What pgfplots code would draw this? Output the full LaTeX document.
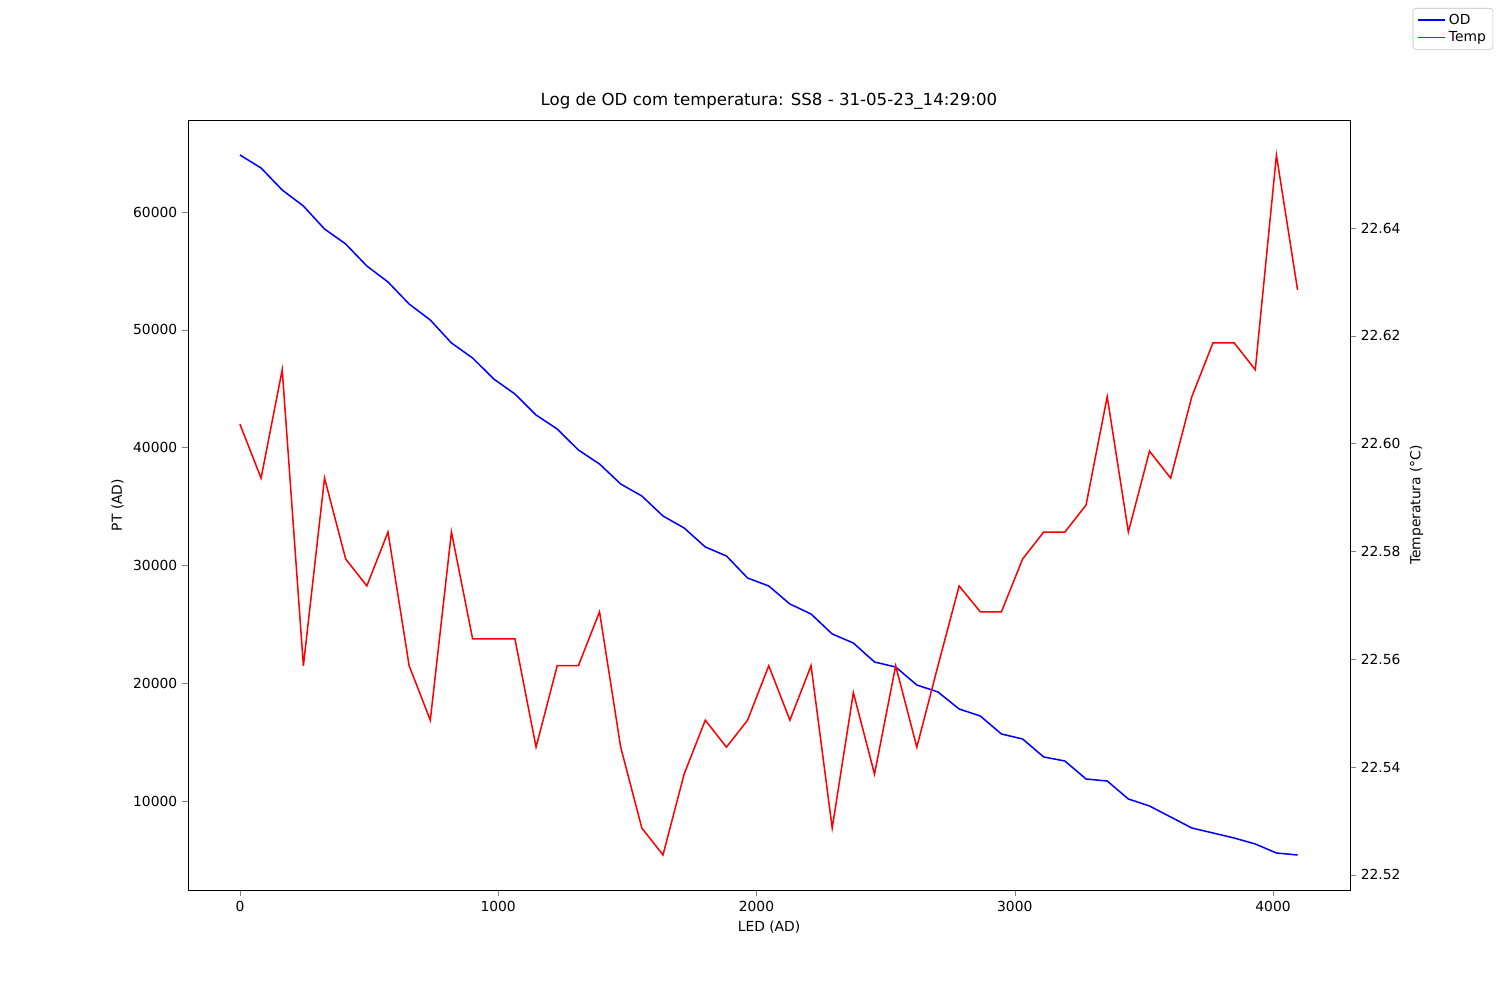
\documentclass[border=0pt]{standalone}
\usepackage{pgfplots}
\pgfplotsset{compat=1.18}
\usepackage{fontspec}
\setmainfont{DejaVu Sans}
\begin{document}
\fontsize{10pt}{12pt}\selectfont
\begin{tikzpicture}
\path[use as bounding box] (0,0) rectangle (15in,10in);
\pgfplotsset{every axis/.style={at={(1.88in,1.1in)},anchor=south west,scale only axis,width=11.62in,height=7.7in,
 xmin=-201,xmax=4298,/pgf/number format/assume math mode=true,tick align=outside,
 tick label style={font=\fontsize{10pt}{12pt}\selectfont},label style={font=\fontsize{10pt}{12pt}\selectfont}}}
\begin{axis}[ymin=2445,ymax=67810,xlabel={LED (AD)},ylabel={PT (AD)},
 xtick pos=bottom,ytick pos=left,
 xtick={0,1000,2000,3000,4000},ytick={10000,20000,30000,40000,50000,60000},
 scaled ticks=false,/pgf/number format/1000 sep={},
 title={Log de OD com temperatura: SS8 - 31-05-23\_14:29:00},title style={font=\fontsize{12pt}{14pt}\selectfont,yshift=-2pt}]
\addplot[blue,line width=1.1pt] table {
x y
0 64839
81.9 63735
163.8 61868
245.7 60509
327.6 58557
409.5 57284
491.4 55416
573.3 54058
655.2 52190
737.1 50832
819 48879
900.9 47606
982.8 45823
1064.7 44550
1146.6 42767
1228.5 41579
1310.4 39796
1392.3 38608
1474.2 36910
1556.1 35891
1638 34194
1719.9 33175
1801.8 31562
1883.7 30798
1965.6 28930
2047.5 28251
2129.4 26723
2211.3 25874
2293.2 24176
2375.1 23412
2457 21799
2538.9 21375
2620.8 19847
2702.7 19253
2784.6 17809
2866.5 17215
2948.4 15687
3030.3 15263
3112.2 13735
3194.1 13395
3276 11867
3357.9 11697
3439.8 10170
3521.7 9576
3603.6 8642
3685.5 7708
3767.4 7284
3849.3 6859
3931.2 6350
4013.1 5586
4095 5416
};
\end{axis}
\begin{axis}[ymin=22.5172,ymax=22.66003,axis y line*=right,axis x line=none,
 ylabel={Temperatura (°C)},ytick={22.52,22.54,22.56,22.58,22.60,22.62,22.64},
 yticklabel style={/pgf/number format/.cd,fixed,fixed zerofill,precision=2},
 legend style={at={(1.1231,1.1455)},anchor=north east,font=\fontsize{10pt}{12pt}\selectfont,draw=gray!50,rounded corners=2pt},
 legend cell align=left]
\addlegendimage{blue,line width=1.1pt,legend image code/.code={\draw[blue,line width=1.1pt] (0cm,0cm) -- (0.7cm,0cm);}}\addlegendentry{OD}
\addplot[red,line width=1.1pt,legend image code/.code={\draw[red,line width=1.1pt] (0cm,0cm) -- (0.7cm,0cm);}] table {
x y
0 22.6036
81.9 22.5936
163.8 22.6137
245.7 22.5588
327.6 22.5936
409.5 22.5786
491.4 22.5736
573.3 22.5836
655.2 22.5588
737.1 22.5487
819 22.5836
900.9 22.5638
982.8 22.5638
1064.7 22.5638
1146.6 22.5437
1228.5 22.5588
1310.4 22.5588
1392.3 22.5688
1474.2 22.5437
1556.1 22.5287
1638 22.5237
1719.9 22.5387
1801.8 22.5487
1883.7 22.5437
1965.6 22.5487
2047.5 22.5588
2129.4 22.5487
2211.3 22.5588
2293.2 22.5287
2375.1 22.5538
2457 22.5387
2538.9 22.5588
2620.8 22.5437
2702.7 22.5588
2784.6 22.5736
2866.5 22.5688
2948.4 22.5688
3030.3 22.5786
3112.2 22.5836
3194.1 22.5836
3276 22.5886
3357.9 22.6087
3439.8 22.5836
3521.7 22.5986
3603.6 22.5936
3685.5 22.6087
3767.4 22.6187
3849.3 22.6187
3931.2 22.6137
4013.1 22.6535
4095 22.6285
};
\addlegendentry{Temp}
\end{axis}
\end{tikzpicture}
\end{document}
